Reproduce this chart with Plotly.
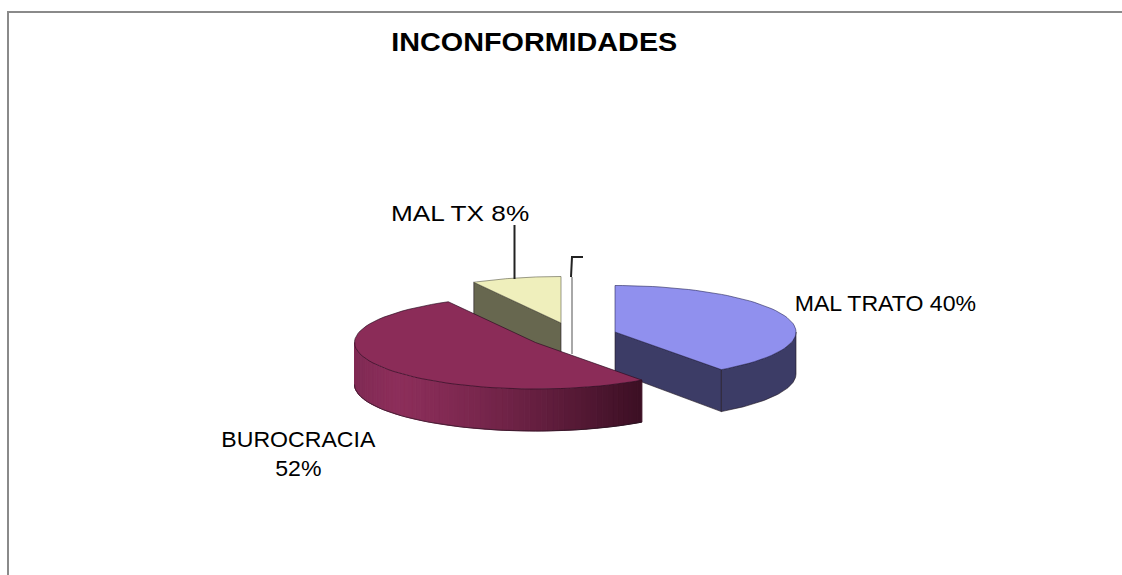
import math
import plotly.graph_objects as go

title = "INCONFORMIDADES"
categories = ["MAL TRATO", "BUROCRACIA", "MAL TX"]
percents = [40, 52, 8]
top_colors = ["#9090EE", "#8B2C58", "#EFEFBC"]
side_colors = ["#3C3C66", "#8B2C58", "#67674F"]
apexes = [(615, 332), (535.5, 342.5), (561, 323)]

RX, RY, DEPTH = 181, 46.5, 42
EDGE = "rgba(30,20,30,0.6)"

fig = go.Figure()


def pt(apex, deg, drop=0):
    r = math.radians(deg)
    return apex[0] + RX * math.sin(r), apex[1] - RY * math.cos(r) + drop


def arc(apex, a0, a1, drop=0, n=60):
    return [pt(apex, a0 + (a1 - a0) * i / n, drop) for i in range(n + 1)]


def poly(points, fill, line=None, width=1):
    fig.add_trace(go.Scatter(
        x=[p[0] for p in points] + [points[0][0]],
        y=[p[1] for p in points] + [points[0][1]],
        mode="lines", fill="toself", fillcolor=fill,
        line=dict(color=line or fill, width=width),
        hoverinfo="skip", showlegend=False))


def mix(c0, c1, t):
    return "rgb(%d,%d,%d)" % tuple(round(a + (b - a) * t) for a, b in zip(c0, c1))


# slice angles, clockwise from twelve o'clock
starts, total = [], 0
for p in percents:
    starts.append(total)
    total += p * 3.6
spans = [p * 3.6 for p in percents]

# MAL TX (behind)
ap = apexes[2]
a0, a1 = starts[2], starts[2] + spans[2]
poly([pt(ap, a0), ap, (ap[0], ap[1] + DEPTH), pt(ap, a0, DEPTH)], side_colors[2], EDGE, 1)
poly([ap] + arc(ap, a0, a1), top_colors[2], "rgba(90,90,70,0.6)", 1)

# leader lines
for xs, ys, col, w in [
    ([514.5, 514.5], [225, 279], "#222222", 2),
    ([572, 572], [277, 354], "#A8A8A8", 2),
    ([583, 572, 571], [257, 257, 277], "#222222", 2),
]:
    fig.add_trace(go.Scatter(x=xs, y=ys, mode="lines", line=dict(color=col, width=w),
                             hoverinfo="skip", showlegend=False))

# MAL TRATO
ap = apexes[0]
a0, a1 = starts[0], starts[0] + spans[0]
end = pt(ap, a1)
poly([ap, end, (end[0], end[1] + DEPTH), (ap[0], ap[1] + DEPTH - 2)], side_colors[0], EDGE, 1)
poly(arc(ap, 90, a1) + arc(ap, a1, 90, DEPTH), side_colors[0], EDGE, 1)
poly([ap] + arc(ap, a0, a1), top_colors[0], "rgba(40,40,90,0.6)", 1)

# BUROCRACIA: shaded rim, strip by strip
ap = apexes[1]
a0, a1 = starts[1], starts[1] + spans[1]
left = (128, 42, 84)
bright = (140, 46, 90)
dark = (60, 15, 36)
n = 70
for i in range(n):
    d0 = a0 + (270 - a0) * i / n
    d1 = a0 + (270 - a0) * (i + 1) / n
    xc = (pt(ap, d0)[0] - (ap[0] - RX)) / (2 * RX - (RX - RX * math.sin(math.radians(a0))))
    t = min(max(xc, 0), 1)
    col = mix(left, bright, t / 0.15) if t < 0.15 else mix(bright, dark, ((t - 0.15) / 0.85) ** 1.3)
    poly(arc(ap, d0, d1, 0, 2) + arc(ap, d1, d0, DEPTH, 2), col, col, 1)
rim = arc(ap, a0, 270, DEPTH)
fig.add_trace(go.Scatter(
    x=[p[0] for p in rim], y=[p[1] for p in rim],
    mode="lines", line=dict(color=EDGE, width=1), hoverinfo="skip", showlegend=False))
poly([ap] + arc(ap, a0, a1), top_colors[1], "rgba(40,10,30,0.65)", 1)

# chart frame
fig.add_trace(go.Scatter(x=[8, 8, 1122], y=[575, 12, 12], mode="lines",
                         line=dict(color="#8A8A8A", width=2),
                         hoverinfo="skip", showlegend=False))

FONT = "Liberation Sans, Arial, sans-serif"
annots = [
    (534, 42, title, 25, True),
    (885.5, 303, f"{categories[0]} {percents[0]}%", 22, False),
    (298.5, 454, f"{categories[1]}<br>{percents[1]}%", 22, False),
    (460, 213, f"{categories[2]} {percents[2]}%", 22, False),
]
for x, y, text, size, bold in annots:
    fig.add_annotation(x=x, y=y, xref="x", yref="y", text=f"<b>{text}</b>" if bold else text,
                       showarrow=False, align="center",
                       font=dict(family=FONT, size=size, color="#000000"))

fig.update_layout(
    width=1122, height=575, margin=dict(l=0, r=0, t=0, b=0),
    paper_bgcolor="white", plot_bgcolor="white", showlegend=False,
    xaxis=dict(range=[0, 1122], visible=False, fixedrange=True),
    yaxis=dict(range=[575, 0], visible=False, fixedrange=True),
)

# page has no margin; the reference lettering is wider than plain Liberation Sans
post = """
document.body.style.margin = '0';
document.body.style.overflow = 'hidden';
function widen() {
  document.querySelectorAll('.annotation-text').forEach(function (t) {
    var c = t.textContent;
    var s = c.indexOf('INCONF') === 0 ? 1.15 : (c.indexOf('MAL TX') === 0 ? 1.19 : 1.05);
    t.style.transformBox = 'fill-box';
    t.style.transformOrigin = 'center';
    t.style.transform = 'scaleX(' + s + ')';
  });
}
widen();
setTimeout(widen, 0);
"""
fig.write_html("out.html", config={"displayModeBar": False},
               default_width="1122px", default_height="575px", post_script=post)
